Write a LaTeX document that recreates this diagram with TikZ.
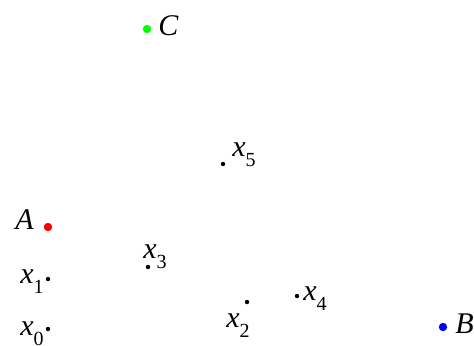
\documentclass[tikz,border=0pt]{standalone}
\usepackage{fontspec}
\setmainfont{Liberation Serif}
\usetikzlibrary{positioning}

\tikzset{
	pnt/.style={circle, fill, inner sep=0pt, minimum size=4.2pt},
	smallpnt/.style={circle, fill=black, inner sep=0pt, minimum size=2.2pt},
	lbl/.style={anchor=base west, inner sep=0pt, font=\fontsize{15}{17}\selectfont}
}

\begin{document}
\begin{tikzpicture}[x=0.5pt, y=-0.5pt]
	\useasboundingbox (0,0) rectangle (474,345);
	\def\xs#1{\textit{x}\raisebox{-5pt}{\fontsize{10}{12}\selectfont #1}}
	% corners
	\node[pnt, red]   (A) at (48,227) {};
	\node[pnt, blue]  (B) at (443,327) {};
	\node[pnt, green] (C) at (147,29) {};
	\node[lbl] (lA) at (15,229) {\textit{A}};
	\node[lbl] (lB) at (455,333) {\textit{B}};
	\node[lbl] (lC) at (158,35) {\textit{C}};
	% iterates
	\foreach \i/\px/\py/\lx/\ly in {0/48/329/20/335, 1/48/279/20/283, 2/247/302/226/327,
		3/148/267/143/258, 4/297/296/303/300, 5/223/164/232/156} {
		\node[smallpnt] (x\i) at (\px,\py) {};
		\node[lbl] (lx\i) at (\lx,\ly) {\xs{\i}};
	}
\end{tikzpicture}
\end{document}
